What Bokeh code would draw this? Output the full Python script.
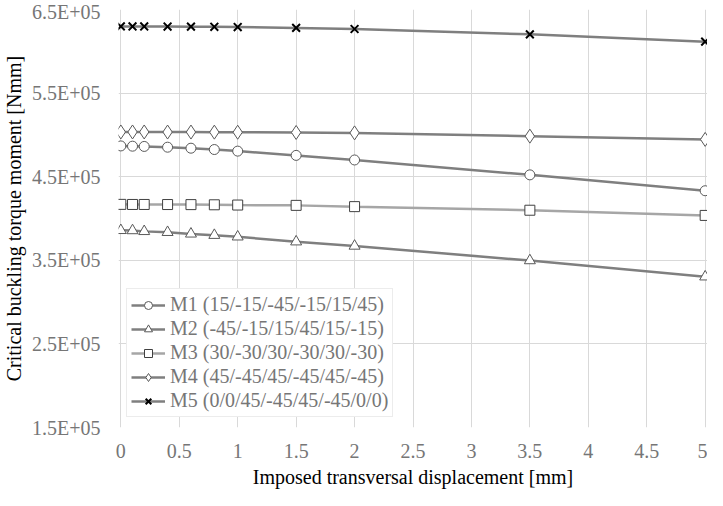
from bokeh.plotting import figure
from bokeh.models import FixedTicker, Legend, LegendItem
from bokeh.embed import file_html
from bokeh.resources import INLINE

disp = [0, 0.1, 0.2, 0.4, 0.6, 0.8, 1.0, 1.5, 2.0, 3.5, 5.0]
m1 = [4.868e5, 4.865e5, 4.862e5, 4.853e5, 4.841e5, 4.825e5, 4.806e5, 4.755e5, 4.700e5, 4.522e5, 4.332e5]
m2 = [3.858e5, 3.856e5, 3.846e5, 3.835e5, 3.816e5, 3.800e5, 3.781e5, 3.722e5, 3.671e5, 3.497e5, 3.303e5]
m3 = [4.169e5, 4.168e5, 4.168e5, 4.167e5, 4.166e5, 4.164e5, 4.161e5, 4.157e5, 4.142e5, 4.099e5, 4.037e5]
m4 = [5.035e5, 5.035e5, 5.035e5, 5.034e5, 5.034e5, 5.033e5, 5.032e5, 5.029e5, 5.024e5, 4.985e5, 4.946e5]
m5 = [6.298e5, 6.297e5, 6.297e5, 6.296e5, 6.295e5, 6.293e5, 6.290e5, 6.280e5, 6.267e5, 6.203e5, 6.115e5]

labels = ["M1 (15/-15/-45/-15/15/45)", "M2 (-45/-15/15/45/15/-15)",
          "M3 (30/-30/30/-30/30/-30)", "M4 (45/-45/45/-45/45/-45)",
          "M5 (0/0/45/-45/45/-45/0/0)"]

x_ticks = [0, 0.5, 1, 1.5, 2, 2.5, 3, 3.5, 4, 4.5, 5]
x_tick_labels = ["0", "0.5", "1", "1.5", "2", "2.5", "3", "3.5", "4", "4.5", "5"]
y_ticks = [150000, 250000, 350000, 450000, 550000, 650000]
y_tick_labels = ["1.5E+05", "2.5E+05", "3.5E+05", "4.5E+05", "5.5E+05", "6.5E+05"]

FONT = "Liberation Serif"
GRID = "#d9d9d9"
TICK_COLOR = "#767676"

p = figure(width=707, height=490, output_backend="svg", toolbar_location=None,
           x_range=(-0.02, 5.02), y_range=(150000, 650000),
           min_border_top=9, min_border_right=0, min_border_left=60, min_border_bottom=0)
p.outline_line_color = None
p.background_fill_color = "white"

for ax in (p.xaxis[0], p.yaxis[0]):
    ax.axis_line_color = None
    ax.major_tick_line_color = None
    ax.minor_tick_line_color = None
    ax.major_tick_out = 0
    ax.minor_tick_out = 0
    ax.major_label_text_font = FONT
    ax.major_label_text_font_size = "20px"
    ax.major_label_text_font_style = "normal"
    ax.major_label_text_color = TICK_COLOR
    ax.axis_label_text_font = FONT
    ax.axis_label_text_font_size = "20px"
    ax.axis_label_text_font_style = "normal"
    ax.axis_label_text_color = "black"
    ax.axis_label_text_line_height = 1.0

p.xaxis.ticker = FixedTicker(ticks=x_ticks)
p.xaxis.major_label_overrides = dict(zip(x_ticks, x_tick_labels))
p.yaxis.ticker = FixedTicker(ticks=y_ticks)
p.yaxis.major_label_overrides = dict(zip(y_ticks, y_tick_labels))
p.xaxis.axis_label = "Imposed transversal displacement [mm]"
p.yaxis.axis_label = "Critical buckling torque moment [Nmm]"
p.xaxis.major_label_standoff = 16
p.xaxis.axis_label_standoff = 5
p.yaxis.major_label_standoff = 18
p.yaxis.axis_label_standoff = 4

p.xgrid.grid_line_color = GRID
p.ygrid.grid_line_color = GRID
p.xgrid.grid_line_width = 1
p.ygrid.grid_line_width = 1

series = [
    (m1, "circle", "#7f7f7f", "#595959", 10),
    (m2, "triangle", "#7f7f7f", "#595959", 11),
    (m3, "square", "#a6a6a6", "#404040", 10),
    (m4, "diamond", "#7f7f7f", "#595959", 14),
    (m5, "x", "#7f7f7f", "black", 11),
]

items = []
for (ys, marker, lcol, mcol, msize), lab in zip(series, labels):
    ln = p.line(disp, ys, line_color=lcol, line_width=2.5)
    if marker == "x":
        sc = p.scatter(disp, ys, marker=marker, size=msize, line_color=mcol, line_width=2)
    else:
        sc = p.scatter(disp, ys, marker=marker, size=msize, line_color=mcol,
                       fill_color="white", line_width=1)
    items.append(LegendItem(label=lab, renderers=[ln, sc]))

legend = Legend(items=items, location=(8, 10))
legend.label_text_font = FONT
legend.label_text_font_size = "20px"
legend.label_text_font_style = "normal"
legend.label_text_color = TICK_COLOR
legend.border_line_color = GRID
legend.border_line_width = 1
legend.background_fill_color = "white"
legend.background_fill_alpha = 1
legend.glyph_width = 34
legend.glyph_height = 20
legend.label_height = 20
legend.label_standoff = 5
legend.spacing = 1
legend.padding = 4
legend.margin = 0
p.add_layout(legend, "center")

open("out.html", "w").write(file_html(p, INLINE))
